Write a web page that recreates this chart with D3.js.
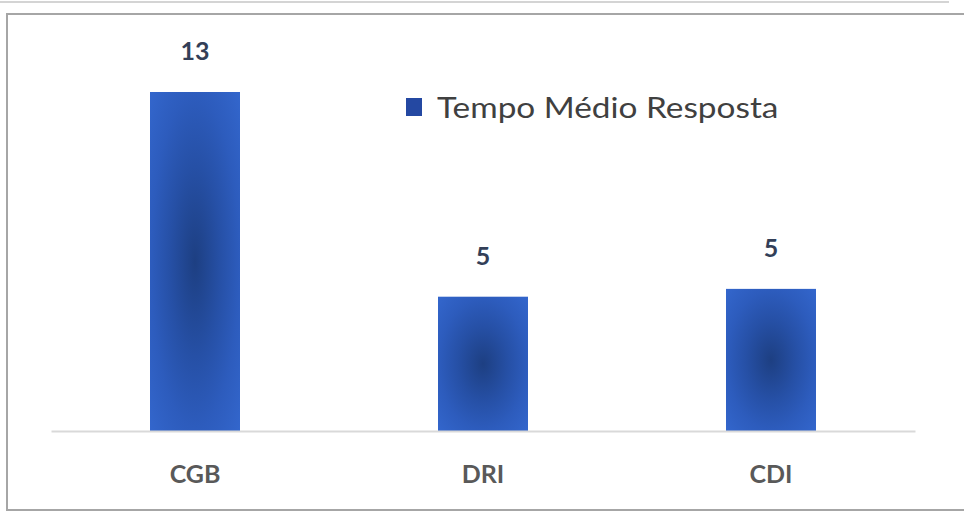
<!DOCTYPE html>
<html><head><meta charset="utf-8">
<script src="https://cdn.jsdelivr.net/npm/d3@7"></script>
<style>html,body{margin:0;padding:0;background:#fff;}svg{display:block;}</style>
</head><body>
<script>
const categories = ["CGB", "DRI", "CDI"];
const values = [13, 5.15, 5.45];
const seriesName = "Tempo Médio Resposta";

const W = 964, H = 512;
const svg = d3.select("body").append("svg").attr("width", W).attr("height", H);

const defs = svg.append("defs");
const grad = defs.append("radialGradient").attr("id", "barGrad")
  .attr("cx", "50%").attr("cy", "50%").attr("r", "70%");
grad.append("stop").attr("offset", "0%").attr("stop-color", "#1d3f82");
grad.append("stop").attr("offset", "40%").attr("stop-color", "#2650a6");
grad.append("stop").attr("offset", "70%").attr("stop-color", "#2d5cbd");
grad.append("stop").attr("offset", "100%").attr("stop-color", "#3366cc");

// outer frame lines
svg.append("line").attr("x1", 0).attr("x2", 949).attr("y1", 2).attr("y2", 2)
  .attr("stroke", "#d4d4d4").attr("stroke-width", 2);
svg.append("rect").attr("x", 7).attr("y", 14).attr("width", W + 10).attr("height", 496)
  .attr("fill", "#fff").attr("stroke", "#a6a6a6").attr("stroke-width", 2);

const x = d3.scaleBand().domain(categories).range([51, 915]).padding(0);
const y = d3.scaleLinear().domain([0, 13]).range([431, 92]);
const barW = 90;

const g = svg.append("g");
g.selectAll("rect.bar").data(categories).join("rect").attr("class", "bar")
  .attr("x", d => x(d) + x.bandwidth() / 2 - barW / 2)
  .attr("width", barW)
  .attr("y", (d, i) => y(values[i]))
  .attr("height", (d, i) => y(0) - y(values[i]))
  .attr("fill", "url(#barGrad)");

// baseline axis
const axis = d3.axisBottom(x).tickSize(0).tickPadding(34);
const ax = svg.append("g").attr("transform", `translate(0,${y(0)})`).call(axis);
ax.select(".domain").attr("stroke", "#d9d9d9").attr("stroke-width", 2);
ax.selectAll("text").attr("font-family", "Lato, 'Open Sans', sans-serif")
  .attr("font-weight", "bold").attr("font-size", 25).attr("fill", "#595959");

// value labels
const fmt = d3.format(".0f");
g.selectAll("text.val").data(categories).join("text").attr("class", "val")
  .attr("x", d => x(d) + x.bandwidth() / 2)
  .attr("y", (d, i) => y(values[i]) - 32)
  .attr("text-anchor", "middle")
  .attr("font-family", "Lato, 'Open Sans', sans-serif")
  .attr("font-weight", "bold").attr("font-size", 25).attr("fill", "#333f58")
  .text((d, i) => fmt(values[i]));

// legend
const lg = svg.append("g").attr("transform", "translate(406,98)");
lg.append("rect").attr("width", 16).attr("height", 18).attr("fill", "#2448a2");
lg.append("text").attr("transform", "translate(31,20) scale(1.15,1)")
  .attr("font-family", "Lato, 'Open Sans', sans-serif").attr("font-size", 29)
  .attr("fill", "#404040").text(seriesName);
</script>
</body></html>
